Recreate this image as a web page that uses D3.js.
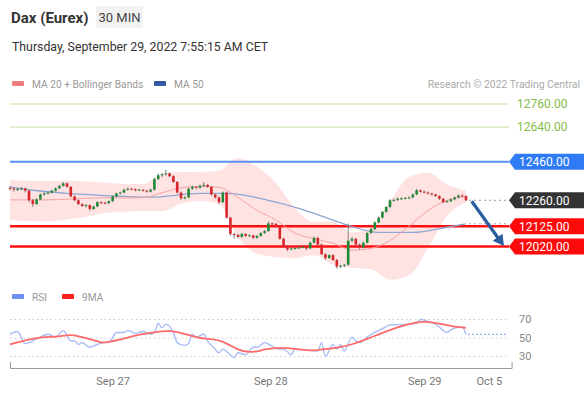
<!DOCTYPE html>
<html>
<head>
<meta charset="utf-8">
<script src="https://cdn.jsdelivr.net/npm/d3@7"></script>
<style>
  body { margin: 0; background: #fff; font-family: Roboto, Arial, sans-serif; }
  svg { display: block; }
</style>
</head>
<body>
<svg id="chart" width="587" height="396"></svg>
<script>
// candles: [open, high, low, close], one per 30 min bar
var candles = [
  [12325,12335,12310,12320],[12320,12328,12305,12315],[12315,12325,12308,12318],[12318,12330,12312,12322],
  [12322,12326,12300,12310],[12310,12312,12250,12260],[12260,12268,12225,12240],[12240,12270,12236,12265],
  [12265,12295,12260,12290],[12290,12302,12284,12296],[12296,12306,12290,12300],[12300,12315,12295,12310],
  [12310,12328,12305,12322],[12322,12340,12318,12335],[12335,12356,12330,12348],[12348,12352,12325,12330],
  [12330,12334,12275,12280],[12280,12285,12255,12260],[12260,12265,12235,12240],[12240,12246,12225,12230],
  [12230,12240,12222,12235],[12235,12238,12205,12215],[12215,12232,12210,12228],[12228,12256,12224,12250],
  [12250,12255,12240,12248],[12248,12252,12238,12245],[12245,12260,12240,12255],[12255,12285,12250,12280],
  [12280,12300,12275,12295],[12295,12306,12290,12300],[12300,12320,12296,12315],[12315,12326,12310,12320],
  [12320,12324,12312,12318],[12318,12322,12306,12312],[12312,12320,12308,12315],[12315,12318,12304,12310],
  [12310,12314,12300,12305],[12305,12320,12300,12315],[12315,12378,12310,12370],[12370,12398,12365,12390],
  [12390,12402,12380,12395],[12395,12418,12388,12400],[12400,12405,12380,12385],[12385,12390,12350,12355],
  [12355,12360,12295,12300],[12300,12306,12262,12270],[12270,12282,12265,12275],[12275,12326,12270,12320],
  [12320,12336,12314,12330],[12330,12334,12318,12325],[12325,12342,12320,12335],[12335,12355,12330,12340],
  [12340,12345,12325,12330],[12330,12334,12285,12290],[12290,12295,12268,12275],[12275,12280,12240,12250],
  [12250,12306,12246,12300],[12300,12305,12165,12170],[12170,12175,12075,12085],[12085,12092,12060,12080],
  [12080,12086,12062,12070],[12070,12090,12065,12085],[12085,12090,12068,12075],[12075,12084,12070,12078],
  [12078,12082,12058,12065],[12065,12080,12060,12075],[12075,12095,12070,12090],[12090,12106,12085,12100],
  [12100,12150,12096,12140],[12140,12146,12130,12138],[12138,12142,12120,12125],[12125,12130,12055,12060],
  [12060,12066,12015,12020],[12020,12025,11995,12005],[12005,12016,12000,12010],[12010,12018,12004,12012],
  [12012,12020,12006,12015],[12015,12024,12010,12018],[12018,12022,12000,12010],[12010,12046,12005,12040],
  [12040,12072,12035,12065],[12065,12070,12025,12030],[12030,12035,11975,11980],[11980,11986,11950,11960],
  [11960,11980,11955,11975],[11975,11980,11945,11950],[11950,11955,11905,11915],[11915,11925,11908,11920],
  [11920,11930,11912,11925],[11925,12140,11920,12050],[12050,12070,12040,12060],[12060,12065,12025,12030],
  [12030,12036,12005,12015],[12015,12045,12010,12040],[12040,12095,12035,12090],[12090,12116,12085,12110],
  [12110,12150,12105,12145],[12145,12176,12140,12170],[12170,12205,12165,12200],[12200,12230,12195,12225],
  [12225,12266,12220,12260],[12260,12270,12252,12262],[12262,12274,12256,12268],[12268,12276,12262,12270],
  [12270,12278,12264,12272],[12272,12280,12266,12275],[12275,12296,12270,12290],[12290,12320,12286,12312],
  [12312,12316,12300,12305],[12305,12310,12296,12300],[12300,12305,12290,12295],[12295,12300,12285,12290],
  [12290,12294,12278,12282],[12282,12286,12262,12268],[12268,12272,12245,12250],[12250,12260,12246,12255],
  [12255,12270,12250,12265],[12265,12280,12260,12275],[12275,12290,12270,12285],[12285,12292,12278,12282],
  [12282,12286,12255,12260]
];

// Bollinger bands / MA20: [bar, lower, middle, upper]
var bollinger = [
  [0,12156,12262,12364],[5,12152,12262,12362],[10,12150,12262,12360],[15,12160,12266,12362],
  [20,12175,12270,12358],[25,12194,12273,12352],[30,12200,12272,12345],[35,12204,12274,12345],
  [40,12203,12299,12395],[45,12242,12325,12408],[50,12258,12332,12406],[55,12241,12328,12415],
  [60,12068,12274,12480],[65,11982,12208,12434],[70,11966,12158,12350],[75,11959,12089,12219],
  [80,11975,12061,12147],[85,11926,12037,12148],[90,11909,12001,12093],[95,11902,12010,12118],
  [100,11847,12051,12255],[105,11869,12125,12381],[110,12011,12207,12403],[115,12177,12260,12343],
  [120,12248,12278,12308]
];

// MA 50: [bar, value]
var ma50 = [
  [0,12328],[6,12312],[15,12296],[24,12286],[37,12276],[50,12296],[57,12296],[68,12260],
  [76,12218],[80,12192],[89,12130],[97,12093],[106,12093],[115,12120],[120,12138]
];

// RSI and its 9 period average: [bar, value]
var rsi = [
  [0,54],[2,57],[4,44],[7,49],[10,54],[12,51],[14,58],[16,47],[17,47],[18,43],[19,45],[21,40],
  [23,43],[25,45],[26,45],[28,56],[30,56],[31,58],[33,55],[35,57],[37,54],[38,56],[39,66],[40,61],
  [41,65],[43,56],[44,45],[46,42],[47,44],[48,54],[49,51],[51,54],[52,47],[54,38],[55,34],[56,38],
  [59,29],[60,34],[62,32],[64,40],[65,40],[67,45],[69,41],[71,38],[72,38],[74,32],[75,38],[78,37],
  [81,36],[82,45],[83,30],[85,43],[86,38],[87,43],[88,36],[90,51],[91,47],[92,45],[94,51],[96,56],
  [98,60],[100,64],[105,65],[107,66],[108,70],[110,68],[112,65],[115,56],[116,59],[119,62],[120,54]
];
var rsiMa = [
  [0,43],[7,51],[12,51],[16,54],[18,52],[21,49],[24,45],[25,45],[29,48],[34,54],[38,56],[42,59],
  [48,52],[51,49],[56,48],[60,36],[64,34],[67,38],[71,40],[76,38],[79,36],[83,38],[87,40],[90,43],
  [94,49],[97,54],[102,62],[107,67],[109,68],[114,65],[117,62],[120,61]
];

// price levels
var resistances = [12760, 12640];
var pivot = 12460;
var lastPrice = 12260;
var supports = [12125, 12020];

var rsiTicks = [70, 50, 30];
var dayTicks = [27, 68.5, 109, 126];
var dayLabels = ["Sep 27", "Sep 28", "Sep 29", "Oct 5"];

var svg = d3.select("#chart");
var font = "Roboto, Arial, sans-serif";

var x = d3.scaleLinear().domain([0, 132]).range([10, 511.6]);
var y = d3.scaleLinear().domain([12020, 12760]).range([246.5, 104]);
var yr = d3.scaleLinear().domain([30, 70]).range([356.5, 319.5]);

// header
svg.append("text").attr("x", 11).attr("y", 23).text("Dax (Eurex)")
  .style("font-family", font).style("font-size", "15px").style("font-weight", "bold").attr("fill", "#333");
svg.append("rect").attr("x", 96).attr("y", 6).attr("width", 47).attr("height", 22).attr("fill", "#f2f2f2");
svg.append("text").attr("x", 119.5).attr("y", 22).attr("text-anchor", "middle").text("30 MIN")
  .style("font-family", font).style("font-size", "13px").attr("fill", "#444");
svg.append("text").attr("x", 12).attr("y", 51).text("Thursday, September 29, 2022 7:55:15 AM CET")
  .style("font-family", font).style("font-size", "12.3px").attr("fill", "#333");

// legends
function legend(lx, ly, color, label) {
  svg.append("rect").attr("x", lx).attr("y", ly - 3).attr("width", 12).attr("height", 5).attr("rx", 1).attr("fill", color);
  svg.append("text").attr("x", lx + 20).attr("y", ly).attr("dy", "0.35em").text(label)
    .style("font-family", font).style("font-size", "10.2px").attr("fill", "#999");
}
legend(12, 84, "#f27d7d", "MA 20 + Bollinger Bands");
legend(154, 84, "#2d5aa0", "MA 50");
svg.append("text").attr("x", 580).attr("y", 84).attr("dy", "0.35em").attr("text-anchor", "end")
  .text("Research \u00a9 2022 Trading Central")
  .style("font-family", font).style("font-size", "10.4px").attr("fill", "#aaa");
legend(12, 297, "#6f8ff0", "RSI");
legend(62, 297, "#ff2020", "9MA");

var lineEnd = 509;

// bollinger fill
var band = d3.area().x(function(d) { return x(d[0]); })
  .y0(function(d) { return y(d[1]); }).y1(function(d) { return y(d[3]); })
  .curve(d3.curveMonotoneX);
svg.append("path").datum(bollinger).attr("d", band).attr("fill", "#ffe3e3");

// level lines
resistances.forEach(function(v) {
  svg.append("line").attr("x1", x(0)).attr("x2", lineEnd).attr("y1", y(v)).attr("y2", y(v))
    .attr("stroke", "#c3df9f").attr("stroke-width", 1);
  svg.append("text").attr("x", 517).attr("y", y(v)).attr("dy", "0.35em").text(v.toFixed(2))
    .style("font-family", font).style("font-size", "12px").attr("fill", "#84bd4a");
});
svg.append("line").attr("x1", x(0)).attr("x2", lineEnd).attr("y1", y(pivot)).attr("y2", y(pivot))
  .attr("stroke", "#5d8ff2").attr("stroke-width", 2);
supports.forEach(function(v) {
  svg.append("line").attr("x1", x(0)).attr("x2", lineEnd).attr("y1", y(v)).attr("y2", y(v))
    .attr("stroke", "#ff1010").attr("stroke-width", 2.5);
});

// MA lines
var line = d3.line().x(function(d) { return x(d[0]); }).y(function(d) { return y(d[1]); }).curve(d3.curveMonotoneX);
svg.append("path").datum(ma50).attr("d", line).attr("fill", "none").attr("stroke", "#8ea6d2").attr("stroke-width", 1.3);
svg.append("path").datum(bollinger.map(function(d) { return [d[0], d[2]]; })).attr("d", line)
  .attr("fill", "none").attr("stroke", "#f5a3a3").attr("stroke-width", 1);

// dotted guides to labels
var last = candles.length - 1;
svg.append("line").attr("x1", x(last) + 3).attr("x2", lineEnd).attr("y1", y(lastPrice)).attr("y2", y(lastPrice))
  .attr("stroke", "#999").attr("stroke-dasharray", "2,3");
svg.append("line").attr("x1", x(ma50[ma50.length - 1][0]) + 3).attr("x2", lineEnd)
  .attr("y1", y(ma50[ma50.length - 1][1])).attr("y2", y(ma50[ma50.length - 1][1]))
  .attr("stroke", "#aaa").attr("stroke-dasharray", "2,3");

// candles
var cw = 2.6;
var g = svg.append("g");
g.selectAll("line.wick").data(candles).enter().append("line")
  .attr("x1", function(d, i) { return x(i); }).attr("x2", function(d, i) { return x(i); })
  .attr("y1", function(d) { return y(d[1]); }).attr("y2", function(d) { return y(d[2]); })
  .attr("stroke", "#666").attr("stroke-width", 0.8);
g.selectAll("rect").data(candles).enter().append("rect")
  .attr("x", function(d, i) { return x(i) - cw / 2; }).attr("width", cw)
  .attr("y", function(d) { return y(Math.max(d[0], d[3])); })
  .attr("height", function(d) { return Math.max(1, Math.abs(y(d[0]) - y(d[3]))); })
  .attr("fill", function(d) { return d[3] >= d[0] ? "#1f8a35" : "#d9262b"; });

// arrow to target
var arrowFrom = [last + 1.5, 12255], arrowTo = [130, 12022];
var ax1 = x(arrowFrom[0]), ay1 = y(arrowFrom[1]), ax2 = x(arrowTo[0]), ay2 = y(arrowTo[1]);
var ang = Math.atan2(ay2 - ay1, ax2 - ax1);
var hl = 11, hw = 6;
svg.append("line").attr("x1", ax1).attr("y1", ay1)
  .attr("x2", ax2 - Math.cos(ang) * hl * 0.8).attr("y2", ay2 - Math.sin(ang) * hl * 0.8)
  .attr("stroke", "#2c5d9f").attr("stroke-width", 3.2);
var bx = ax2 - Math.cos(ang) * hl, by = ay2 - Math.sin(ang) * hl;
svg.append("path").attr("d", "M" + ax2 + "," + ay2 +
  "L" + (bx + Math.sin(ang) * hw) + "," + (by - Math.cos(ang) * hw) +
  "L" + (bx - Math.sin(ang) * hw) + "," + (by + Math.cos(ang) * hw) + "Z")
  .attr("fill", "#2c5d9f");

// price label tags
function tag(v, color) {
  var yy = y(v);
  svg.append("path").attr("d", "M509," + yy + "L515," + (yy - 8) + "H584V" + (yy + 8) + "H515Z").attr("fill", color);
  svg.append("text").attr("x", 519).attr("y", yy).attr("dy", "0.36em").text(v.toFixed(2))
    .style("font-family", font).style("font-size", "12px").attr("fill", "#fff");
}
tag(pivot, "#2f7bf6");
tag(lastPrice, "#333333");
supports.forEach(function(v) { tag(v, "#ff0a0a"); });

// RSI panel
rsiTicks.forEach(function(v) {
  svg.append("line").attr("x1", x(0)).attr("x2", 507).attr("y1", yr(v)).attr("y2", yr(v))
    .attr("stroke", "#ccc").attr("stroke-dasharray", "1.5,3");
  svg.append("text").attr("x", 519).attr("y", yr(v)).attr("dy", "0.35em").text(v)
    .style("font-family", font).style("font-size", "11px").attr("fill", "#888");
});
var rline = d3.line().x(function(d) { return x(d[0]); }).y(function(d) { return yr(d[1]); });
svg.append("path").datum(rsi).attr("d", rline.curve(d3.curveMonotoneX)).attr("fill", "none")
  .attr("stroke", "#a9bdf5").attr("stroke-width", 1.4);
svg.append("line").attr("x1", x(rsi[rsi.length - 1][0]) + 2).attr("x2", 507)
  .attr("y1", yr(rsi[rsi.length - 1][1])).attr("y2", yr(rsi[rsi.length - 1][1]))
  .attr("stroke", "#7f9ff0").attr("stroke-dasharray", "2,2");
svg.append("path").datum(rsiMa).attr("d", rline.curve(d3.curveBasis)).attr("fill", "none")
  .attr("stroke", "#ff6a6a").attr("stroke-width", 1.8);

// time axis
var xAxis = d3.axisBottom(x).tickValues(dayTicks)
  .tickFormat(function(d, i) { return dayLabels[i]; })
  .tickSizeInner(0).tickSizeOuter(-6).tickPadding(9);
var ax = svg.append("g").attr("transform", "translate(0,368)").call(xAxis);
ax.select(".domain").attr("stroke", "#999");
ax.selectAll("text").style("font-family", font).style("font-size", "11px").attr("fill", "#777");
</script>
</body>
</html>
